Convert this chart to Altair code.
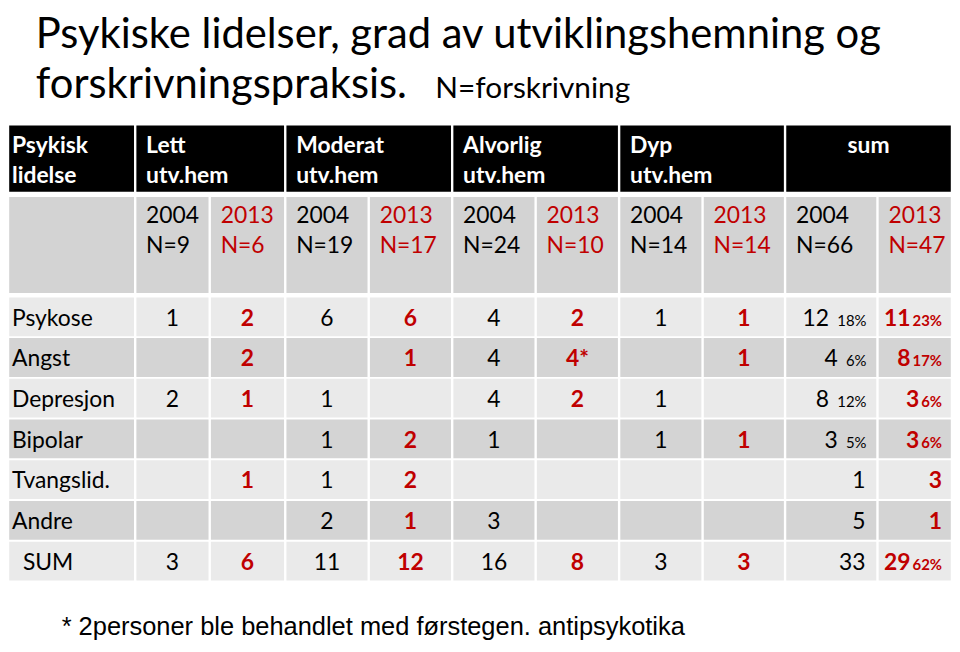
import altair as alt
import pandas as pd

# ---------------- data ----------------
title_line1 = "Psykiske lidelser, grad av utviklingshemning og"
title_line2 = "forskrivningspraksis."
title_note = "N=forskrivning"
footnote = "* 2personer ble behandlet med førstegen. antipsykotika"

corner_header = ["Psykisk", "lidelse"]
groups = ["Lett", "Moderat", "Alvorlig", "Dyp"]
group_sub = "utv.hem"
sum_header = "sum"
years = ["2004", "2013"]
n_values = ["N=9", "N=6", "N=19", "N=17", "N=24", "N=10", "N=14", "N=14", "N=66", "N=47"]

row_labels = ["Psykose", "Angst", "Depresjon", "Bipolar", "Tvangslid.", "Andre", "SUM"]
lett_2004 = ["1", "", "2", "", "", "", "3"]
lett_2013 = ["2", "2", "1", "", "1", "", "6"]
mod_2004 = ["6", "", "1", "1", "1", "2", "11"]
mod_2013 = ["6", "1", "", "2", "2", "1", "12"]
alv_2004 = ["4", "4", "4", "1", "", "3", "16"]
alv_2013 = ["2", "4*", "2", "", "", "", "8"]
dyp_2004 = ["1", "", "1", "1", "", "", "3"]
dyp_2013 = ["1", "1", "", "1", "", "", "3"]
sum_2004 = ["12", "4", "8", "3", "1", "5", "33"]
sum_2004_pct = ["18%", "6%", "12%", "5%", "", "", ""]
sum_2013 = ["11", "8", "3", "3", "3", "1", "29"]
sum_2013_pct = ["23%", "17%", "6%", "6%", "", "", "62%"]

# ---------------- layout & style ----------------
W, H = 950, 636
col_edges = [0, 128, 203, 279, 363, 447, 531, 615, 699, 782, 875, 950]
hdr1 = (115, 184)
hdr2 = (187, 286)
row_top0, row_step, row_hgt = 288, 41, 39
inset = 1.2
RED = "#c00000"
BLACK = "#000000"
WHITE = "#ffffff"
C_HDR = "#000000"
C_HDR2 = "#d3d3d3"
C_LIGHT = "#eaeaea"
C_DARK = "#d4d4d4"
F = "Lato"
FS = 23
PFS = 15

rects = []
def rect(x0, x1, y0, y1, fill):
    rects.append(dict(x=x0 + inset, x2=x1 - inset, y=y0 + inset, y2=y1 - inset, fill=fill))

# header row 1
rect(col_edges[0], col_edges[1], *hdr1, C_HDR)
for g in range(5):
    rect(col_edges[1 + 2 * g], col_edges[3 + 2 * g], *hdr1, C_HDR)
# header row 2
for c in range(11):
    rect(col_edges[c], col_edges[c + 1], *hdr2, C_HDR2)
# data rows
for r in range(len(row_labels)):
    y0 = row_top0 + r * row_step
    fill = C_LIGHT if r % 2 == 0 else C_DARK
    for c in range(11):
        rect(col_edges[c], col_edges[c + 1], y0, y0 + row_hgt + 2 * inset, fill)
rect_df = pd.DataFrame(rects)

texts = []
def txt(x, y, t, align="left", color=BLACK, weight="normal", size=FS, font=F):
    if t == "":
        return
    texts.append(dict(x=x, y=y, t=t, align=align, color=color, weight=weight, size=size, font=font))

# title
txt(28, 38, title_line1, size=42)
txt(28, 89, title_line2, size=42)
txt(430, 89, title_note, size=30)
# footnote
txt(54, 629, footnote, size=25.6, font="Liberation Sans")

# header row 1
txt(4, 144, corner_header[0], color=WHITE, weight="bold")
txt(4, 174, corner_header[1], color=WHITE, weight="bold")
for g, name in enumerate(groups):
    x = col_edges[1 + 2 * g] + 11
    txt(x, 144, name, color=WHITE, weight="bold")
    txt(x, 174, group_sub, color=WHITE, weight="bold")
txt((col_edges[9] + col_edges[11]) / 2, 144, sum_header, align="center", color=WHITE, weight="bold")

# header row 2
for c in range(10):
    x = col_edges[1 + c] + 11
    col = BLACK if c % 2 == 0 else RED
    txt(x, 214, years[c % 2], color=col)
    txt(x, 245, n_values[c], color=col)

# data rows
mid_cols = [lett_2004, lett_2013, mod_2004, mod_2013, alv_2004, alv_2013, dyp_2004, dyp_2013]

def pct_width(s, size):
    return (len(s) - 1) * 0.58 * size + 0.82 * size

for r, lab in enumerate(row_labels):
    yb = row_top0 + r * row_step + 29.5
    txt(15 if lab == "SUM" else 4, yb, lab)
    for c, series in enumerate(mid_cols):
        cx = (col_edges[1 + c] + col_edges[2 + c]) / 2
        if c % 2 == 0:
            txt(cx, yb, series[r], align="center")
        else:
            txt(cx, yb, series[r], align="center", color=RED, weight="bold")
    # sum 2004
    right = 864
    p = sum_2004_pct[r]
    if p:
        txt(right, yb, p, align="right", size=PFS)
        txt(right - pct_width(p, PFS) - 8, yb, sum_2004[r], align="right")
    else:
        txt(right - 1, yb, sum_2004[r], align="right")
    # sum 2013
    right = 940
    p = sum_2013_pct[r]
    if p:
        txt(right, yb, p, align="right", color=RED, weight="bold", size=PFS)
        txt(right - pct_width(p, PFS) - 2, yb, sum_2013[r], align="right", color=RED, weight="bold")
    else:
        txt(right, yb, sum_2013[r], align="right", color=RED, weight="bold")

text_df = pd.DataFrame(texts)

xs = alt.Scale(domain=[0, W], nice=False, zero=False)
ys = alt.Scale(domain=[0, H], nice=False, zero=False, reverse=True)

base_rect = alt.Chart(rect_df).mark_rect().encode(
    x=alt.X("x:Q", scale=xs, axis=None),
    x2="x2:Q",
    y=alt.Y("y:Q", scale=ys, axis=None),
    y2="y2:Q",
    color=alt.Color("fill:N", scale=None),
)

layers = [base_rect]
for (align, color, weight, size, font), sub in text_df.groupby(["align", "color", "weight", "size", "font"]):
    layers.append(
        alt.Chart(sub.reset_index(drop=True)).mark_text(
            align=align, baseline="alphabetic", color=color, fontWeight=weight,
            fontSize=float(size), font=font,
        ).encode(
            x=alt.X("x:Q", scale=xs, axis=None),
            y=alt.Y("y:Q", scale=ys, axis=None),
            text="t:N",
        )
    )

chart = alt.layer(*layers).properties(
    width=W, height=H, padding=0, autosize="none", background="white"
).configure_view(stroke=None)

chart.save("out.html", embed_options={"renderer": "svg", "actions": False})
